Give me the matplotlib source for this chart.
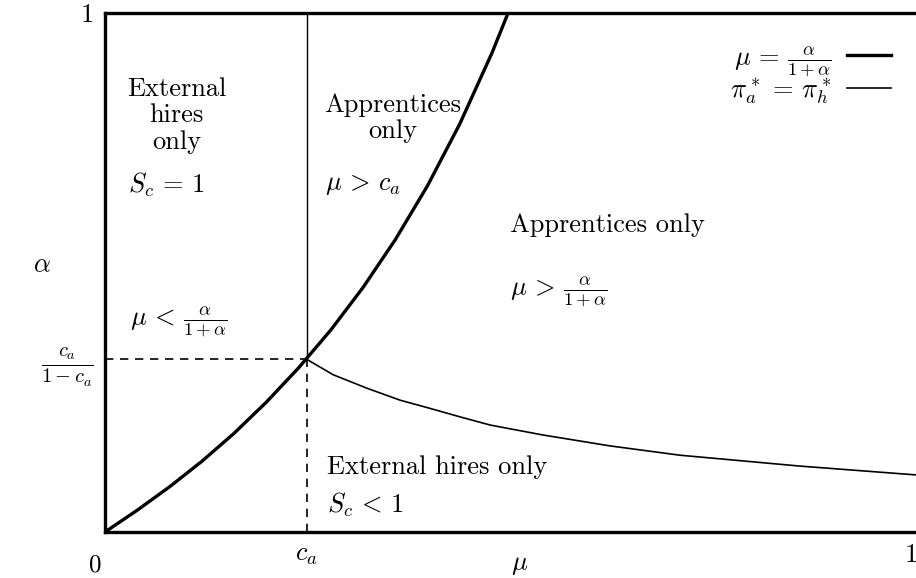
import matplotlib
matplotlib.use("Agg")
import matplotlib.pyplot as plt

# values
c_a = 0.25
alpha_ca = 0.333          # c_a / (1 - c_a)

# thick curve  mu = alpha / (1 + alpha)
mu_thick = [0.0, 0.04, 0.08, 0.12, 0.16, 0.2, 0.24, 0.28, 0.32, 0.36, 0.4, 0.44, 0.48, 0.5]
alpha_thick = [0.0, 0.042, 0.087, 0.136, 0.190, 0.25, 0.316, 0.389, 0.471, 0.563, 0.667,
               0.786, 0.923, 1.0]

# thin curve  pi_a* = pi_h*
mu_thin = [0.25, 0.283, 0.325, 0.366, 0.399, 0.44, 0.478, 0.543, 0.626, 0.713, 0.862, 1.006]
alpha_thin = [0.333, 0.303, 0.277, 0.254, 0.240, 0.222, 0.206, 0.187, 0.166, 0.148, 0.127, 0.110]

xtick_pos = [c_a, 1.0]
xtick_labels = [r'$c_a$', '1']
ytick_pos = [alpha_ca, 1.0]
ytick_labels = [r'$\frac{c_a}{1-c_a}$', '1']

plt.rcParams['font.family'] = ['cmr10', 'DejaVu Serif']
plt.rcParams['mathtext.fontset'] = 'cm'
plt.rcParams['axes.unicode_minus'] = False

fig = plt.figure(figsize=(9.16, 5.78), dpi=100)
ax = fig.add_axes([105 / 916, 1 - 532 / 578, 811 / 916, 519 / 578])
ax.set_xlim(0, 1.006)
ax.set_ylim(0, 1)

l1, = ax.plot(mu_thick, alpha_thick, color='black', lw=2.4, solid_joinstyle='round')
l2, = ax.plot(mu_thin, alpha_thin, color='black', lw=1.2, solid_joinstyle='round')

# c_a guide lines
ax.plot([c_a, c_a], [alpha_ca, 1], color='black', lw=1.0)
ax.plot([c_a, c_a], [0, alpha_ca], color='black', lw=1.2, ls=(0, (5, 4)))
ax.plot([0, c_a], [alpha_ca, alpha_ca], color='black', lw=1.2, ls=(0, (5, 4)))

for side in ['left', 'bottom', 'top']:
    ax.spines[side].set_linewidth(2.4)
ax.spines['right'].set_visible(False)

ax.set_xticks(xtick_pos)
ax.set_xticklabels(xtick_labels, fontsize=19)
ax.set_yticks(ytick_pos)
ax.set_yticklabels(ytick_labels, fontsize=19)
ax.get_yticklabels()[0].set_fontsize(21)
ax.tick_params(length=0, pad=8)
ax.tick_params(axis='y', pad=8)

fig.text(95 / 916, 1 - 565 / 578, '0', fontsize=18, ha='center', va='center')
fig.text(520 / 916, 1 - 565 / 578, r'$\mu$', fontsize=19, ha='center', va='center')
fig.text(42 / 916, 1 - 265 / 578, r'$\alpha$', fontsize=19, ha='center', va='center')

fs = 19
ax.text(0.089, 0.803, 'External\nhires\nonly', fontsize=fs, ha='center', va='center',
        linespacing=1.15)
ax.text(0.029, 0.669, r'$S_c\,=\,1$', fontsize=fs, ha='left', va='center')
ax.text(0.357, 0.797, 'Apprentices\nonly', fontsize=fs, ha='center', va='center',
        linespacing=1.15)
ax.text(0.273, 0.669, r'$\mu\,>\,c_a$', fontsize=fs, ha='left', va='center')
ax.text(0.502, 0.592, 'Apprentices only', fontsize=fs, ha='left', va='center')
ax.text(0.502, 0.462, r'$\mu\,>\,\frac{\alpha}{1+\alpha}$', fontsize=fs, ha='left', va='center')
ax.text(0.031, 0.405, r'$\mu\,<\,\frac{\alpha}{1+\alpha}$', fontsize=fs, ha='left', va='center')
ax.text(0.275, 0.125, 'External hires only', fontsize=fs, ha='left', va='center')
ax.text(0.275, 0.052, r'$S_c\,<\,1$', fontsize=fs, ha='left', va='center')

ax.legend([l1, l2], [r'$\mu\,=\,\frac{\alpha}{1+\alpha}$', r'$\pi_a^*\,=\,\pi_h^*$'],
          loc='upper right', frameon=False, markerfirst=False, fontsize=fs,
          handlelength=1.65, handletextpad=0.6, labelspacing=-0.1,
          bbox_to_anchor=(0.998, 0.986))

fig.savefig('out.png', dpi=100)
